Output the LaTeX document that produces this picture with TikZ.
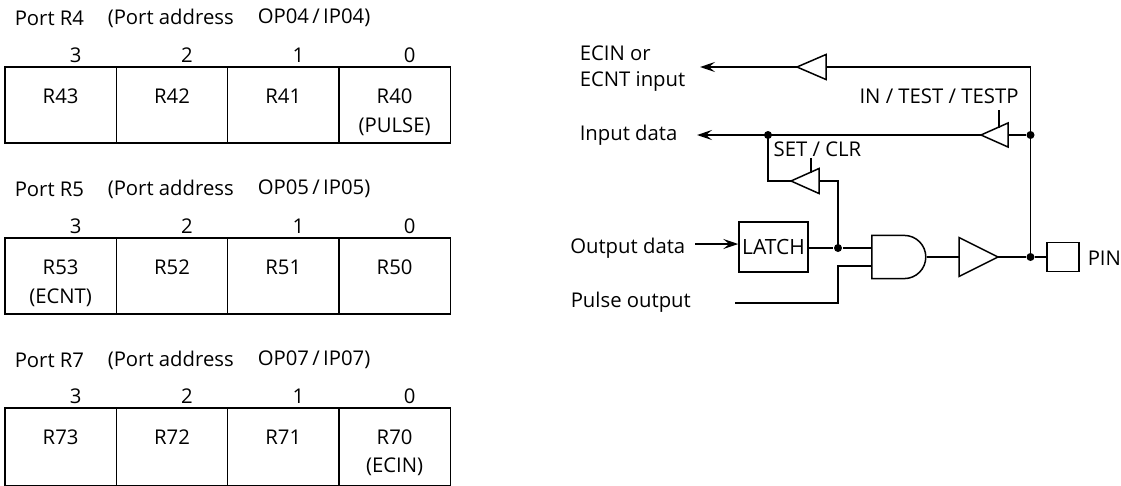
\documentclass[tikz,border=0pt]{standalone}
\usepackage{fontspec}
\setmainfont{Open Sans}
\usetikzlibrary{arrows.meta,calc,shapes.geometric,shapes.gates.logic.US}
\begin{document}
\begin{tikzpicture}[x=1pt,y=-1pt,line width=1.5pt,>={Stealth[length=15pt,width=10pt,inset=6pt]}]
  \tikzstyle{cell}=[rectangle,draw,minimum width=111.3pt,inner sep=0pt]
  \tikzstyle{txt}=[inner sep=0pt,font=\fontsize{20.3}{26}\selectfont]
  \tikzstyle{tri}=[isosceles triangle,isosceles triangle stretches,draw,inner sep=0pt,outer sep=0pt,anchor=lower side]
  \tikzstyle{buf}=[tri,shape border rotate=180]
  \tikzstyle{dot}=[circle,fill=black,minimum size=8pt,inner sep=0pt]
  \useasboundingbox (0,0) rectangle (1121,485);
  % the three ports
  \foreach \p/\t/\a/\h in {4/67/18/76,5/238/189/76,7/408/360/78} {
    \node[txt,anchor=west] (name-\p) at (14,\a) {Port R\p};
    \node[txt,anchor=west] (addr-\p) at (107,\a) {(Port address};
    \node[txt,anchor=west] (op-\p) at (257,\a) {OP0\p\,/\,IP0\p)};
    \foreach \b/\x in {3/60.6,2/172,1/283.3,0/394.6} {
      \node[cell,minimum height=\h pt] (R-\p-\b) at (\x,\t+\h/2) {};
      \node[txt] (bit-\p-\b) at (\x+15,\t-12) {\b};
      \node[txt] (lab-\p-\b) at (\x,\t+29) {R\p\b};
    }
  }
  \node[txt] (pulse) at (394.6,127) {(PULSE)};
  \node[txt] (ecnt) at (60.6,298) {(ECNT)};
  \node[txt] (ecin) at (394.6,467) {(ECIN)};
  % gates
  \node[buf,minimum width=25pt,minimum height=29pt] (bufE) at (826,67) {};
  \node[buf,minimum width=24pt,minimum height=27pt] (bufI) at (1008,135) {};
  \node[buf,minimum width=25pt,minimum height=28pt] (bufS) at (819,181) {};
  \node[rectangle,draw,minimum width=69pt,minimum height=50pt,inner sep=0pt,
    font=\fontsize{21}{24}\selectfont] (latch) at (773.5,247) {LATCH};
  \node[and gate US,draw,logic gate inputs=nn,minimum width=54pt,minimum height=39pt,
    inner sep=0pt] (and) at (897,257) {};
  \node[tri,minimum width=39pt,minimum height=39pt] (bufO) at (959,257) {};
  \node[rectangle,draw,minimum width=32pt,minimum height=29pt,inner sep=0pt] (pin) at (1063,257) {};
  \node[txt,anchor=west] (pinT) at (1087,258) {PIN};
  % labels
  \node[txt,anchor=west,align=left] (ecinT) at (579,69) {ECIN or\\ECNT input};
  \node[txt,anchor=west] (inT) at (579,135) {Input data};
  \node[txt,anchor=east] (outT) at (686,248) {Output data};
  \node[txt,anchor=west] (pulseT) at (570,302) {Pulse output};
  \node[txt] (testT) at (939,96) {IN / TEST / TESTP};
  \node[txt] (setT) at (817.5,149) {SET / CLR};
  % junctions
  \node[dot] (J-pin) at (1030.5,257) {};
  \node[dot] (J-in) at (1030.5,135) {};
  \node[dot] (J-set) at (768,135) {};
  \node[dot] (J-latch) at (838,248) {};
  % free ends
  \coordinate (tipE) at (700,67);
  \coordinate (tipI) at (697,135);
  \coordinate (outS) at (695,244);
  \coordinate (pulS) at (735,303);
  \coordinate (bendP) at (838,266);
  \coordinate (ctlI) at (999,110);
  \coordinate (ctlS) at (811,158);
  \coordinate (edgeI) at ($(bufI.apex)!.625!(bufI.right corner)$);
  \coordinate (edgeS) at ($(bufS.apex)!.68!(bufS.right corner)$);
  % wires
  \draw[->] (bufE.apex) -- (tipE);
  \draw[->] (bufI.apex) -- (tipI);
  \draw (bufE.lower side) -| (J-in.center) -- (J-pin.center);
  \draw (bufI.lower side) -- (J-in);
  \draw (J-set.center) |- (bufS.apex);
  \draw (bufS.lower side) -| (J-latch.center);
  \draw[->] (outS) -- (outS -| latch.west);
  \draw (latch.east |- J-latch) -- (J-latch) -- (J-latch -| and.west);
  \draw (pulS) -| (bendP) -- (bendP -| and.west);
  \draw (and.output) -- (bufO.lower side);
  \draw (bufO.apex) -- (J-pin) -- (pin.west);
  \draw (ctlI) -- (ctlI |- edgeI);
  \draw (ctlS) -- (ctlS |- edgeS);
\end{tikzpicture}
\end{document}
